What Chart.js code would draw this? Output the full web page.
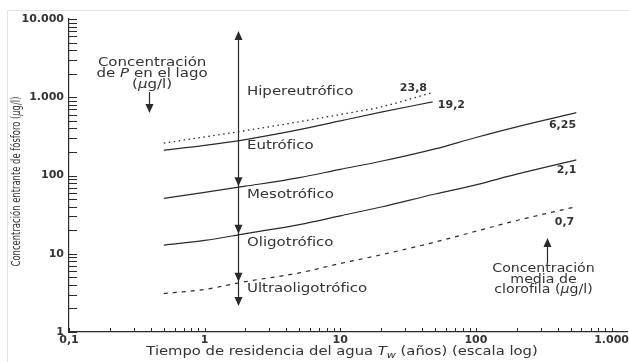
<!DOCTYPE html>
<html lang="es">
<head>
<meta charset="utf-8">
<title>Concentración entrante de fósforo y tiempo de residencia</title>
<script src="https://cdn.jsdelivr.net/npm/chart.js@4.4.1/dist/chart.umd.min.js"></script>
<style>
  html, body { margin: 0; padding: 0; background: #fff; overflow: hidden; }
  #wrap { position: relative; width: 629px; height: 362px; }
  #frame { position: absolute; left: 7px; top: 10px; width: 640px; height: 400px; border: 1px solid #e4e4e4; }
  canvas { position: absolute; left: 0; top: 0; }
</style>
</head>
<body>
<div id="wrap">
  <div id="frame"></div>
  <canvas id="chart" width="629" height="362"></canvas>
</div>
<script>
// Tiempo de residencia (años)
const tShort = [0.5, 1, 2, 5, 10, 20, 48];
const tLong = [0.5, 1, 2, 5, 10, 20, 50, 100, 200, 550];

// Concentración entrante de fósforo (µg/l) para cada clorofila media
const p238 = [260, 311, 375, 487, 602, 753, 1150];
const p192 = [210, 242, 288, 385, 499, 644, 875];
const p625 = [51, 61, 73, 94, 120, 152, 219, 306, 419, 635];
const p21 = [12.9, 14.8, 18.1, 23.6, 30.5, 39.6, 58, 76, 104, 158];
const p07 = [3.1, 3.5, 4.4, 5.7, 7.5, 9.7, 14.1, 19.4, 26.6, 40];

// Ejes
const xDecades = [0.1, 1, 10, 100, 1000];
const xTickLabels = ['0,1', '1', '10', '100', '1.000'];
const yDecades = [1, 10, 100, 1000, 10000];
const yTickLabels = ['1', '10', '100', '1.000', '10.000'];
const minorSteps = [1, 2, 3, 4, 5, 6, 7, 8, 9];

// Etiquetas de las curvas (clorofila, µg/l)
const curveNames = ['23,8', '19,2', '6,25', '2,1', '0,7'];
const curveLabelT = [34.6, 66, 435, 466, 450];
const curveLabelP = [1313, 796, 442, 117, 25.5];

// Estados tróficos
const trophicNames = ['Hipereutrófico', 'Eutrófico', 'Mesotrófico', 'Oligotrófico', 'Ultraoligotrófico'];
const trophicP = [1167, 238, 56, 13.7, 3.54];
const trophicT = 2.05;

// Flecha vertical central
const arrowT = 1.77;
const arrowTopP = 7000;
const arrowHeadsP = [73, 18, 4.4, 2.15];

const FONT = "'DejaVu Sans', 'Liberation Sans', sans-serif";
const NARROW = "'DejaVu Sans Condensed', 'DejaVu Sans', sans-serif";
const TEXT_COLOR = '#333';
const LINE_COLOR = '#2a2a2a';
const STRETCH = 1.25;

const pts = (xs, ys) => xs.map((x, i) => ({ x: x, y: ys[i] }));

function partFont(p, size, family) {
  const s = p.sub ? Math.round(size * 0.72) : size;
  return (p.italic ? 'italic ' : '') + s + 'px ' + family;
}

// dibuja texto con partes en cursiva / subíndice
function drawRich(ctx, parts, x, y, opts) {
  const size = opts.size || 12;
  const family = opts.family || FONT;
  const sx = opts.sx || 1;
  ctx.save();
  let total = 0;
  parts.forEach(p => { ctx.font = partFont(p, size, family); total += ctx.measureText(p.t).width; });
  ctx.translate(x, y);
  if (opts.rotate) ctx.rotate(opts.rotate);
  ctx.scale(sx, 1);
  let cx = opts.align === 'center' ? -total / 2 : (opts.align === 'right' ? -total : 0);
  ctx.textBaseline = 'middle';
  ctx.textAlign = 'left';
  ctx.fillStyle = TEXT_COLOR;
  parts.forEach(p => {
    ctx.font = partFont(p, size, family);
    ctx.fillText(p.t, cx, p.sub ? size * 0.32 : 0);
    cx += ctx.measureText(p.t).width;
  });
  ctx.restore();
}

function arrowHead(ctx, x, yTip, dir) {
  ctx.beginPath();
  ctx.moveTo(x, yTip);
  ctx.lineTo(x - 4, yTip - dir * 9);
  ctx.lineTo(x + 4, yTip - dir * 9);
  ctx.closePath();
  ctx.fill();
}

function vLine(ctx, x, y1, y2) {
  ctx.beginPath();
  ctx.moveTo(x, y1);
  ctx.lineTo(x, y2);
  ctx.stroke();
}

const lakeNote = [
  [{ t: 'Concentración' }],
  [{ t: 'de ' }, { t: 'P', italic: true }, { t: ' en el lago' }],
  [{ t: '(' }, { t: 'μ', italic: true }, { t: 'g/l)' }]
];
const chlNote = [
  [{ t: 'Concentración' }],
  [{ t: 'media de' }],
  [{ t: 'clorofila (' }, { t: 'μ', italic: true }, { t: 'g/l)' }]
];

const overlay = {
  id: 'overlay',
  afterDraw(chart) {
    const { ctx, chartArea: a, scales: { x, y } } = chart;
    ctx.save();
    ctx.strokeStyle = LINE_COLOR;
    ctx.fillStyle = LINE_COLOR;
    ctx.lineWidth = 1;

    // marcas de los ejes, hacia dentro
    yDecades.forEach(d => minorSteps.forEach(m => {
      const v = d * m;
      if (v > y.max * 1.0001) return;
      const py = Math.round(y.getPixelForValue(v)) + 0.5;
      ctx.beginPath(); ctx.moveTo(a.left, py); ctx.lineTo(a.left + 8, py); ctx.stroke();
    }));
    xDecades.forEach(d => minorSteps.forEach(m => {
      const v = d * m;
      if (v > x.max) return;
      const px = Math.round(x.getPixelForValue(v)) + 0.5;
      ctx.beginPath(); ctx.moveTo(px, a.bottom); ctx.lineTo(px, a.bottom - 4); ctx.stroke();
    }));

    // flecha central
    ctx.lineWidth = 1.2;
    const ax = Math.round(x.getPixelForValue(arrowT)) + 0.5;
    const top = y.getPixelForValue(arrowTopP);
    const bottom = y.getPixelForValue(arrowHeadsP[arrowHeadsP.length - 1]);
    vLine(ctx, ax, top + 2, bottom - 2);
    arrowHead(ctx, ax, top, -1);
    arrowHeadsP.forEach(v => arrowHead(ctx, ax, y.getPixelForValue(v), 1));

    // flecha de la nota del lago
    const lx = Math.round(x.getPixelForValue(0.39)) + 0.5;
    vLine(ctx, lx, y.getPixelForValue(1167), y.getPixelForValue(629) - 4);
    arrowHead(ctx, lx, y.getPixelForValue(629), 1);

    // flecha de la nota de clorofila
    const rx = Math.round(x.getPixelForValue(337)) + 0.5;
    vLine(ctx, rx, y.getPixelForValue(7.62), y.getPixelForValue(15.9) + 4);
    arrowHead(ctx, rx, y.getPixelForValue(15.9), -1);
    ctx.restore();

    // estados tróficos
    trophicNames.forEach((name, i) => {
      drawRich(ctx, [{ t: name }], x.getPixelForValue(trophicT), y.getPixelForValue(trophicP[i]),
        { size: 12, sx: STRETCH, align: 'left' });
    });

    // notas
    const noteX = x.getPixelForValue(0.41);
    const noteY = y.getPixelForValue(2740);
    lakeNote.forEach((line, i) => drawRich(ctx, line, noteX, noteY + i * 11, { size: 12, sx: STRETCH, align: 'center' }));
    const chlX = x.getPixelForValue(315);
    const chlY = y.getPixelForValue(6.38);
    chlNote.forEach((line, i) => drawRich(ctx, line, chlX, chlY + i * 10.5, { size: 12, sx: 1.18, align: 'center' }));

    // valores de clorofila de cada curva
    ctx.save();
    ctx.font = 'bold 11px ' + FONT;
    ctx.fillStyle = TEXT_COLOR;
    ctx.textAlign = 'center';
    ctx.textBaseline = 'middle';
    curveNames.forEach((n, i) => ctx.fillText(n, x.getPixelForValue(curveLabelT[i]), y.getPixelForValue(curveLabelP[i])));
    ctx.restore();

    // títulos de los ejes
    drawRich(ctx, [{ t: 'Tiempo de residencia del agua ' }, { t: 'T', italic: true }, { t: 'w', italic: true, sub: true },
      { t: ' (años) (escala log)' }], x.getPixelForValue(10.3), chart.height - 10, { size: 12, sx: 1.23, align: 'center' });
    drawRich(ctx, [{ t: 'Concentración entrante de fósforo (' }, { t: 'μ', italic: true }, { t: 'g/l)' }],
      17, (a.top + a.bottom) / 2 + 6, { size: 13, family: NARROW, sx: 0.72, rotate: -Math.PI / 2, align: 'center' });
  }
};

const tickFont = { family: 'DejaVu Sans', size: 11, weight: 'bold' };

new Chart(document.getElementById('chart'), {
  type: 'line',
  data: {
    datasets: [
      { data: pts(tShort, p238), borderDash: [1.5, 3.5], borderWidth: 1.3 },
      { data: pts(tShort, p192) },
      { data: pts(tLong, p625) },
      { data: pts(tLong, p21) },
      { data: pts(tLong, p07), borderDash: [4, 5] }
    ]
  },
  options: {
    responsive: false,
    animation: false,
    layout: { padding: { top: 19, right: 2, left: 0, bottom: 0 } },
    elements: {
      line: { borderColor: LINE_COLOR, borderWidth: 1.2, cubicInterpolationMode: 'monotone', fill: false },
      point: { radius: 0, hoverRadius: 0 }
    },
    plugins: { legend: { display: false }, tooltip: { enabled: false } },
    scales: {
      x: {
        type: 'logarithmic',
        min: 0.1,
        max: 1300,
        grid: { display: false, drawTicks: false },
        border: { display: true, color: LINE_COLOR, width: 1.2 },
        afterBuildTicks: s => { s.ticks = xDecades.map(v => ({ value: v })); },
        ticks: { autoSkip: false, maxRotation: 0, padding: 2, color: TEXT_COLOR, font: tickFont,
          callback: (v, i) => xTickLabels[i] },
        afterFit: s => { s.height = 30; s.paddingLeft = 0; s.paddingRight = 0; }
      },
      y: {
        type: 'logarithmic',
        min: 1,
        max: 10000,
        grid: { display: false, drawTicks: false },
        border: { display: true, color: LINE_COLOR, width: 1.2 },
        afterBuildTicks: s => { s.ticks = yDecades.map(v => ({ value: v })); },
        ticks: { autoSkip: false, padding: 5, color: TEXT_COLOR, font: tickFont,
          callback: (v, i) => yTickLabels[i] },
        afterFit: s => { s.width = 69; }
      }
    }
  },
  plugins: [overlay]
});
</script>
</body>
</html>
